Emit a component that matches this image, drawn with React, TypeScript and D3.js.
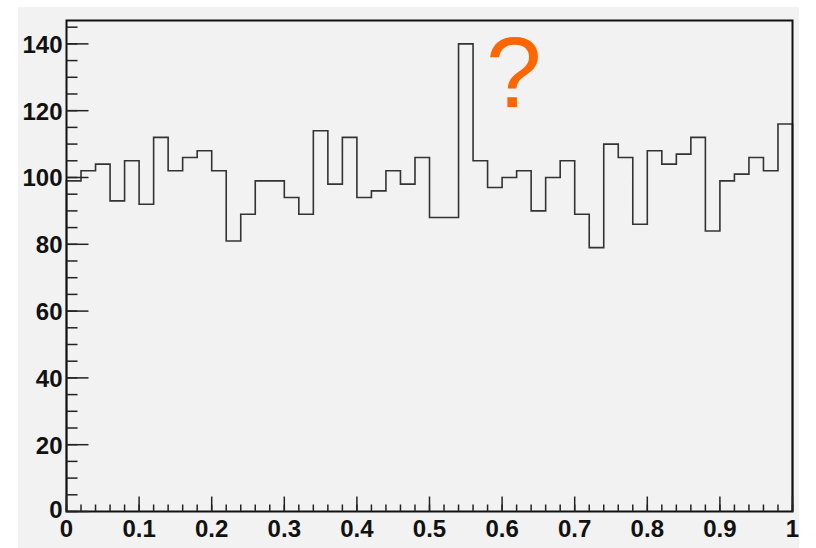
import React from 'react';
import * as d3 from 'd3';

// bin contents, 50 bins between 0 and 1
const counts = [
  99, 102, 104, 93, 105, 92, 112, 102, 106, 108,
  102, 81, 89, 99, 99, 94, 89, 114, 98, 112,
  94, 96, 102, 98, 106, 88, 88, 140, 105, 97,
  100, 102, 90, 100, 105, 89, 79, 110, 106, 86,
  108, 104, 107, 112, 84, 99, 101, 106, 102, 116,
];
const xTicks = [0, 0.1, 0.2, 0.3, 0.4, 0.5, 0.6, 0.7, 0.8, 0.9, 1];
const yTicks = [0, 20, 40, 60, 80, 100, 120, 140];

const W = 816, H = 548;
const left = 66.5, right = 792.5, top = 20.5, bottom = 511.5;
const font = '"Liberation Sans", Arial, Helvetica, sans-serif';

const App = () => {
  const x = d3.scaleLinear().domain([0, 1]).range([left, right]);
  const y = d3.scaleLinear().domain([0, 147]).range([bottom, top]);
  const nb = counts.length;

  // step outline of the histogram
  const pts: [number, number][] = [[0, 0]];
  counts.forEach((c, i) => {
    pts.push([i / nb, c]);
    pts.push([(i + 1) / nb, c]);
  });
  pts.push([1, 0]);
  const line = d3.line<[number, number]>()
    .x(d => x(d[0]))
    .y(d => y(d[1]));

  const xMinor = d3.range(0, 1.0001, 0.02);
  const yMinor = d3.range(0, 147, 5);
  const fmt = (v: number) => (v === 0 ? '0' : v === 1 ? '1' : d3.format('.1f')(v));

  return (
    <svg width={W} height={H} style={{ position: 'absolute', left: 0, top: 0 }}>
      <rect x={0} y={0} width={W} height={H} fill="#ffffff" />
      <rect x={18} y={7} width={781} height={541} fill="#f2f2f2" />

      <path d={line(pts) || ''} fill="none" stroke="#333" strokeWidth={1.6} />

      {/* frame */}
      <rect x={left} y={top} width={right - left} height={bottom - top}
            fill="none" stroke="#111" strokeWidth={2} />

      {/* axis ticks */}
      <g stroke="#222" strokeWidth={1.5}>
        {yMinor.map(v => (
          <line key={'ym' + v} x1={left} x2={left + 11} y1={y(v)} y2={y(v)} />
        ))}
        {yTicks.map(v => (
          <line key={'yM' + v} x1={left} x2={left + 22} y1={y(v)} y2={y(v)} />
        ))}
        {xMinor.map(v => (
          <line key={'xm' + v} x1={x(v)} x2={x(v)} y1={bottom} y2={bottom - 7} />
        ))}
        {xTicks.map(v => (
          <line key={'xM' + v} x1={x(v)} x2={x(v)} y1={bottom} y2={bottom - 15} />
        ))}
      </g>

      <g fontFamily={font} fontWeight="bold" fontSize={24} fill="#111">
        {yTicks.map(v => (
          <text key={'yl' + v} x={left - 4} y={y(v) + (v === 0 ? 6 : 9)} textAnchor="end">{v}</text>
        ))}
        {xTicks.map(v => (
          <text key={'xl' + v} x={x(v)} y={bottom + 25} textAnchor="middle">{fmt(v)}</text>
        ))}
      </g>

      <text x={486} y={107} fontFamily={font} fontSize={100} fill="#ff6600">?</text>
    </svg>
  );
};

export default App;
